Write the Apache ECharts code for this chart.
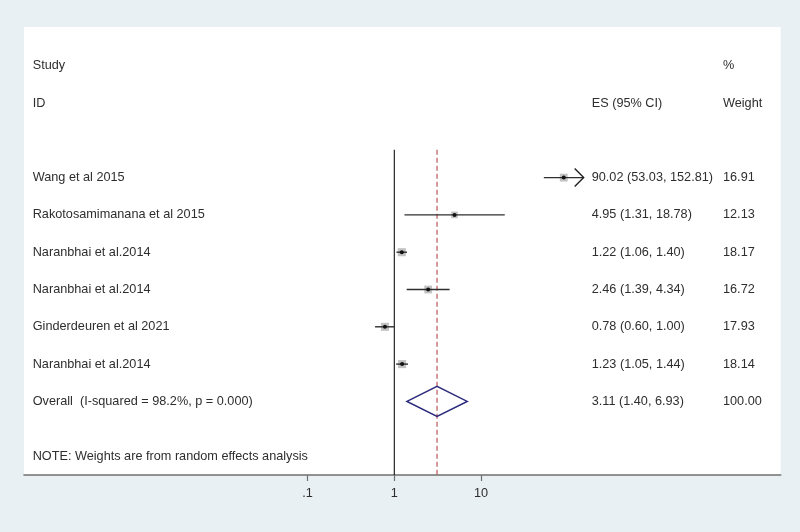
<!DOCTYPE html>
<html>
<head>
<meta charset="utf-8">
<script src="https://cdn.jsdelivr.net/npm/echarts@6/dist/echarts.min.js"></script>
<style>
html,body{margin:0;padding:0;background:#e8f0f3;}
#chart{width:800px;height:532px;}
</style>
</head>
<body>
<div id="chart"></div>
<script>
// ---------- data ----------
const studyNames = [
  'Wang et al 2015',
  'Rakotosamimanana et al 2015',
  'Naranbhai et al.2014',
  'Naranbhai et al.2014',
  'Ginderdeuren et al 2021',
  'Naranbhai et al.2014'
];
const esValues  = [90.02, 4.95, 1.22, 2.46, 0.78, 1.23];
const ciLower   = [53.03, 1.31, 1.06, 1.39, 0.60, 1.05];
const ciUpper   = [152.81, 18.78, 1.40, 4.34, 1.00, 1.44];
const weightPct = [16.91, 12.13, 18.17, 16.72, 17.93, 18.14];

const overallLabel  = 'Overall  (I-squared = 98.2%, p = 0.000)';
const overallES     = 3.11;
const overallLower  = 1.40;
const overallUpper  = 6.93;
const overallWeight = 100.00;

const noteText = 'NOTE: Weights are from random effects analysis';
const headerStudy  = ['Study', 'ID'];
const headerES     = 'ES (95% CI)';
const headerWeight = ['%', 'Weight'];

const tickValues = [0.1, 1, 10];
const tickLabels = ['.1', '1', '10'];
const arrowCut = 100; // CIs beyond this get an arrow head

// ---------- layout / style ----------
const FONT = '"Liberation Sans", Arial, Helvetica, sans-serif';
const FONT_SIZE = 12.7;
const TEXT_COLOR = '#2e2e2e';
const COL_STUDY = 32.7, COL_ES = 591.7, COL_W = 723;
const ROW_FIRST = 3, ROW_OVERALL = 9, ROW_NOTE = 10.48;
const Y_MIN = -1.0375, Y_MAX = 10.973;
const LINE_TOP = 2.25;
const X_MIN = -4.2711, X_MAX = 4.4567;

const lg = Math.log10;
const fmt = v => v.toFixed(2);

// texts
const texts = [];
texts.push({row: 0, x: COL_STUDY, t: headerStudy[0]});
texts.push({row: 1, x: COL_STUDY, t: headerStudy[1]});
texts.push({row: 1, x: COL_ES, t: headerES});
texts.push({row: 0, x: COL_W, t: headerWeight[0]});
texts.push({row: 1, x: COL_W, t: headerWeight[1]});
studyNames.forEach((n, i) => {
  const r = ROW_FIRST + i;
  texts.push({row: r, x: COL_STUDY, t: n});
  texts.push({row: r, x: COL_ES, t: fmt(esValues[i]) + ' (' + fmt(ciLower[i]) + ', ' + fmt(ciUpper[i]) + ')'});
  texts.push({row: r, x: COL_W, t: fmt(weightPct[i])});
});
texts.push({row: ROW_OVERALL, x: COL_STUDY, t: overallLabel});
texts.push({row: ROW_OVERALL, x: COL_ES, t: fmt(overallES) + ' (' + fmt(overallLower) + ', ' + fmt(overallUpper) + ')'});
texts.push({row: ROW_OVERALL, x: COL_W, t: fmt(overallWeight)});
texts.push({row: ROW_NOTE, x: COL_STUDY, t: noteText});

const studyData = esValues.map((v, i) => [lg(v), ROW_FIRST + i, lg(ciLower[i]), lg(ciUpper[i]), weightPct[i], ciUpper[i] > arrowCut ? 1 : 0]);
const refLines = [[lg(1), LINE_TOP, Y_MAX, 0], [lg(overallES), LINE_TOP, Y_MAX, 1]];
const diamondData = [[lg(overallES), ROW_OVERALL, lg(overallLower), lg(overallUpper)]];
const tickLogs = tickValues.map(lg);

const chart = echarts.init(document.getElementById('chart'), null, {renderer: 'canvas'});
chart.setOption({
  backgroundColor: '#e8f0f3',
  animation: false,
  grid: {left: 24, right: 19.3, top: 27, bottom: 57, show: true, backgroundColor: '#ffffff', borderWidth: 0},
  xAxis: {
    type: 'value', min: X_MIN, max: X_MAX, position: 'bottom',
    splitLine: {show: false},
    axisLine: {show: true, onZero: false, lineStyle: {color: '#707070', width: 1.6}},
    axisTick: {show: true, customValues: tickLogs, length: 6, lineStyle: {color: '#707070', width: 1.2}},
    axisLabel: {
      customValues: tickLogs, margin: 12, color: TEXT_COLOR, fontSize: FONT_SIZE, fontFamily: FONT,
      formatter: v => { const i = tickLogs.findIndex(t => Math.abs(t - v) < 1e-6); return i >= 0 ? tickLabels[i] : ''; }
    }
  },
  yAxis: {type: 'value', inverse: true, min: Y_MIN, max: Y_MAX, show: false},
  series: [
    {
      type: 'custom', name: 'refLines', data: refLines, z: 1,
      renderItem: (params, api) => {
        const p1 = api.coord([api.value(0), api.value(1)]);
        const p2 = api.coord([api.value(0), api.value(2)]);
        const dashed = api.value(3) === 1;
        return {type: 'line', shape: {x1: p1[0], y1: p1[1], x2: p2[0], y2: p2[1]},
          style: dashed ? {stroke: '#b5474a', lineWidth: 1.1, lineDash: [5, 3]} : {stroke: '#111', lineWidth: 1.1}};
      }
    },
    {
      type: 'custom', name: 'studies', data: studyData, z: 3,
      renderItem: (params, api) => {
        const c = api.coord([api.value(0), api.value(1)]);
        const lo = api.coord([api.value(2), api.value(1)]);
        const hi = api.coord([api.value(3), api.value(1)]);
        const side = 1.9 * Math.sqrt(api.value(4));
        const children = [
          {type: 'rect', shape: {x: c[0] - side / 2, y: c[1] - side / 2, width: side, height: side}, style: {fill: '#c2c2c2'}},
          {type: 'line', shape: {x1: lo[0], y1: lo[1], x2: hi[0], y2: hi[1]}, style: {stroke: '#2f2f2f', lineWidth: 1.4}},
          {type: 'circle', shape: {cx: c[0], cy: c[1], r: 2}, style: {fill: '#111'}}
        ];
        if (api.value(5) === 1) {
          children.push({type: 'polyline', shape: {points: [[hi[0] - 9, hi[1] - 9], [hi[0], hi[1]], [hi[0] - 9, hi[1] + 9]]},
            style: {stroke: '#222', lineWidth: 1.4, fill: null}});
        }
        return {type: 'group', children};
      }
    },
    {
      type: 'custom', name: 'overall', data: diamondData, z: 3,
      renderItem: (params, api) => {
        const c = api.coord([api.value(0), api.value(1)]);
        const lo = api.coord([api.value(2), api.value(1)]);
        const hi = api.coord([api.value(3), api.value(1)]);
        const h = 15;
        return {type: 'polygon', shape: {points: [[lo[0], c[1]], [c[0], c[1] - h], [hi[0], c[1]], [c[0], c[1] + h]]},
          style: {stroke: '#2b2a7c', lineWidth: 1.5, fill: null}};
      }
    },
    {
      type: 'custom', name: 'texts', data: texts.map(t => [0, t.row]), z: 4,
      renderItem: (params, api) => {
        const item = texts[params.dataIndex];
        const y = api.coord([0, api.value(1)])[1];
        return {type: 'text', style: {text: item.t, x: item.x, y: y, fill: TEXT_COLOR,
          fontSize: FONT_SIZE, fontFamily: FONT, align: 'left', verticalAlign: 'middle'}};
      }
    }
  ]
});
</script>
</body>
</html>
